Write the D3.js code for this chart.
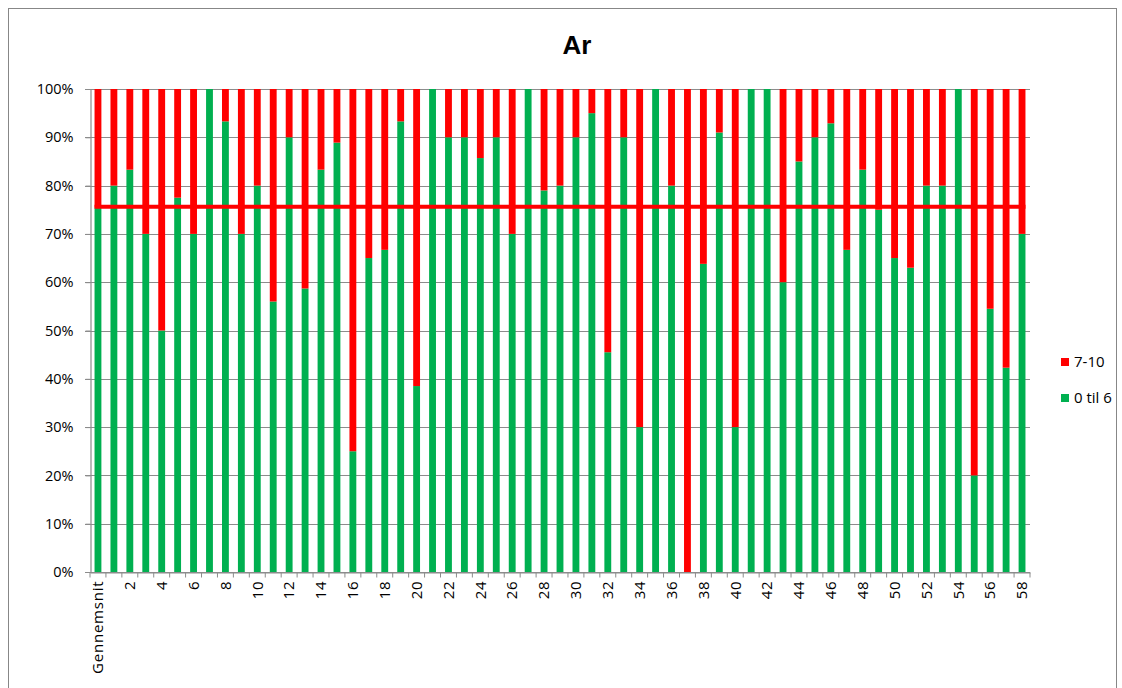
<!DOCTYPE html>
<html><head><meta charset="utf-8">
<script src="https://cdn.jsdelivr.net/npm/d3@7"></script>
<style>body{margin:0;background:#fff}svg{display:block}</style>
</head><body>
<svg id="c" width="1122" height="688"></svg>
<script>
const categories = ["Gennemsnit"].concat(d3.range(1,59).map(String));
const low = [75.5,80,83.3,70,50,77.5,70,100,93.3,70,80,56,90,58.7,83.3,88.9,25,65,66.7,93.3,38.5,
  100,90,90,85.7,90,70,100,79,80,90,95,45.5,90,30,100,80,0,63.8,91,30,100,100,60,85,90,92.9,66.7,83.3,75,
  65,63,80,80,100,20,54.5,42.3,70];
const high = low.map(v => 100 - v);
const average = 75.6;
const yTicks = d3.range(0, 101, 10);
const seriesNames = ["0 til 6", "7-10"];
const colors = {"0 til 6": "#00B050", "7-10": "#FF0000"};

const svg = d3.select("#c");
svg.append("rect").attr("x",8.5).attr("y",8.5).attr("width",1108).attr("height",690)
  .attr("fill","none").attr("stroke","#878787").attr("stroke-width",1);

const m = {l:90, r:1030, t:89, b:572};
const x = d3.scaleBand().domain(categories).range([m.l, m.r]).paddingInner(0.57).paddingOuter(0.285);
const y = d3.scaleLinear().domain([0,100]).range([m.b, m.t]);
const font = "'Open Sans', 'Liberation Sans', Arial, sans-serif";

svg.append("text").attr("x",577).attr("y",54).attr("text-anchor","middle")
  .attr("font-family","'Liberation Sans Narrow', 'Liberation Sans', sans-serif").attr("font-weight","bold").attr("font-size",26).text("Ar");

// grid
svg.append("g").selectAll("line").data(yTicks).join("line")
  .attr("x1",m.l-5).attr("x2",m.r).attr("y1",d=>Math.round(y(d))+0.5).attr("y2",d=>Math.round(y(d))+0.5)
  .attr("stroke","#8c8c8c").attr("stroke-width",1.2);

const rows = categories.map((c,i)=>({cat:c, "0 til 6":low[i], "7-10":high[i]}));
const stack = d3.stack().keys(seriesNames)(rows);
svg.append("g").selectAll("g").data(stack).join("g").attr("fill",d=>colors[d.key])
  .selectAll("rect").data(d=>d).join("rect")
  .attr("x",d=>x(d.data.cat)).attr("width",x.bandwidth())
  .attr("y",d=>y(d[1])).attr("height",d=>y(d[0])-y(d[1]));

// axes
const yAxis = d3.axisLeft(y).tickValues(yTicks).tickFormat(d=>d+"%").tickSize(5);
const gy = svg.append("g").attr("transform",`translate(${m.l+0.5},0)`).call(yAxis);
gy.select(".domain").attr("stroke","#8c8c8c").attr("stroke-width",1.2);
gy.selectAll(".tick line").attr("stroke","#8c8c8c");
gy.selectAll("text").attr("font-family",font).attr("font-size",14.5).attr("fill","#000").attr("dx",-9);

const xAxis = d3.axisBottom(x).tickSize(0).tickFormat((d,i)=> i%2===0 ? d : "");
const gx = svg.append("g").attr("transform",`translate(0,${m.b+0.5})`).call(xAxis);
gx.select(".domain").attr("stroke","#8c8c8c").attr("stroke-width",1.2);
gx.selectAll("text").attr("font-family",font).attr("font-size",15).attr("fill","#000")
  .attr("letter-spacing","0.8px")
  .attr("transform","rotate(-90)").attr("text-anchor","end").attr("x",-8).attr("y",0).attr("dy","0.35em");
// boundary ticks
const step = x.step();
gx.append("g").selectAll("line").data(d3.range(categories.length+1)).join("line")
  .attr("x1",i=>m.l+i*step).attr("x2",i=>m.l+i*step).attr("y1",0).attr("y2",5)
  .attr("stroke","#8c8c8c");

// average line
svg.append("line").attr("x1",x(categories[0])).attr("x2",x(categories[categories.length-1])+x.bandwidth())
  .attr("y1",y(average)).attr("y2",y(average)).attr("stroke","#FF0000").attr("stroke-width",4);

// legend
const lg = svg.append("g").attr("font-family",font).attr("font-size",15);
["7-10","0 til 6"].forEach((k,i)=>{
  const yy = 362 + i*36;
  lg.append("rect").attr("x",1061).attr("y",yy-4).attr("width",8).attr("height",8).attr("fill",colors[k]);
  lg.append("text").attr("x",1074).attr("y",yy).attr("dy","0.35em").text(k);
});
</script>
</body></html>
